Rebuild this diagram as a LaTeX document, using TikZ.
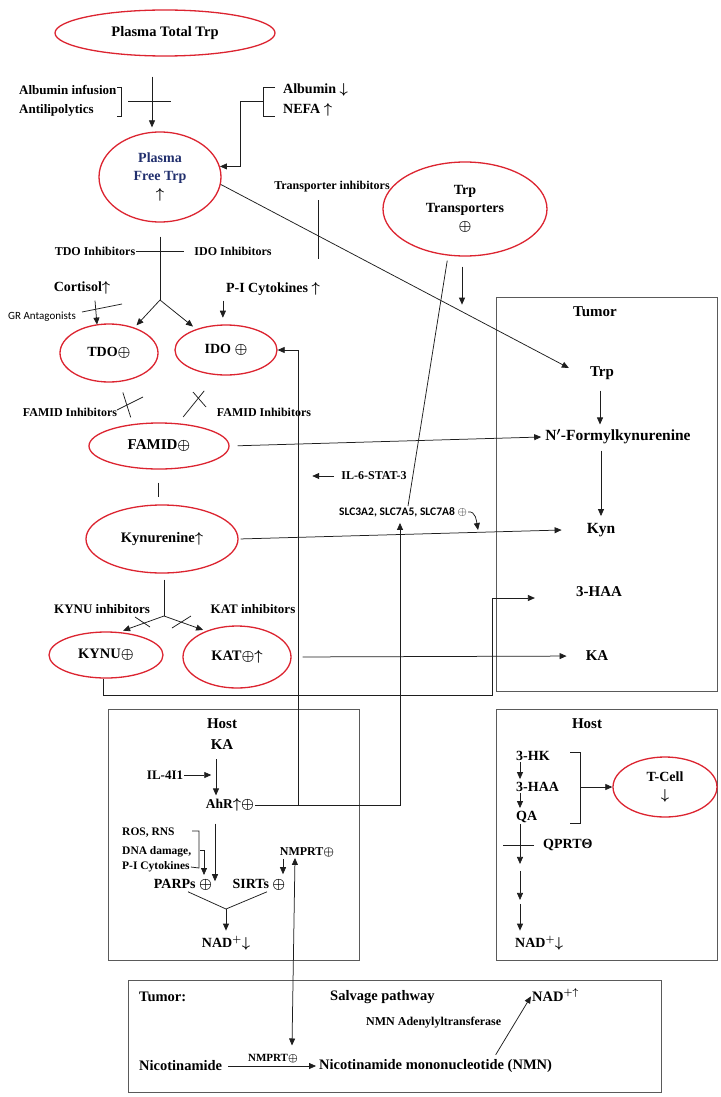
\documentclass[tikz,border=0pt]{standalone}
\usepackage{fontspec}
\setmainfont{Liberation Serif}
\newfontfamily\calibri{Carlito}
\usetikzlibrary{arrows.meta,shapes.geometric}
\definecolor{kyred}{HTML}{DC2430}
\definecolor{kynavy}{HTML}{22306E}
\definecolor{kygrey}{HTML}{5A5A5A}
\definecolor{kyink}{HTML}{1E1E1E}

\tikzset{
  enz/.style={ellipse, draw=kyred, line width=1.3pt, inner sep=0pt, align=center},
  fs/.style={font=\bfseries\boldmath\fontsize{#1}{18}\selectfont, inner sep=1pt},
  sans/.style={font=\calibri\fontsize{#1}{13}\selectfont, inner sep=1pt},
  ln/.style={draw=kyink, line width=0.75pt},
  arr/.style={ln, -{Triangle[length=7pt,width=6pt]}},
  panel/.style={draw=kygrey, line width=0.9pt}
}

\begin{document}
\begin{tikzpicture}[x=1pt, y=-1pt]
  \useasboundingbox (0,0) rectangle (720,1097);
  \fill[white] (0,0) rectangle (720,1097);

  % --- plasma side
  \node[enz,fs=14.5,minimum width=220pt,minimum height=46pt] (ptt) at (165,33) {Plasma Total Trp};
  \node[enz,fs=14,minimum width=122pt,minimum height=90pt] (pft) at (160,177)
       {\textcolor{kynavy}{Plasma}\\\textcolor{kynavy}{Free Trp}\\$\uparrow$};
  \node[enz,fs=14,minimum width=164pt,minimum height=94pt] (ttr) at (465,209)
       {Trp\\Transporters\\$\oplus$};

  \node[fs=13,anchor=west] (albinf) at (18,90) {Albumin infusion};
  \node[fs=13,anchor=west] (antil) at (18,110) {Antilipolytics};
  \node[fs=14,anchor=west] (albdn) at (282,90) {Albumin $\downarrow$};
  \node[fs=14,anchor=west] (nefa) at (282,110) {NEFA $\uparrow$};
  \node[fs=12] (trinh) at (332,187) {Transporter inhibitors};

  \draw[arr,shorten <=20pt,shorten >=4pt] ([xshift=-13pt]ptt.south) -- ([xshift=-13pt]ptt.south |- pft.north);
  \draw[ln] (128,101) -- (171,101);
  \draw[ln] (117,87) -- (121,87) -- (121,116) -- (117,116);
  \draw[ln] (275,87) -- (263,87) -- (263,116) -- (275,116);
  \coordinate (albmid) at (263,101);
  \draw[arr] (albmid) -- ++(-23,0) |- (pft.10);
  \draw[ln] (318,200) -- (318,259);

  % --- the two dioxygenases
  \node[enz,fs=14,minimum width=98pt,minimum height=58pt] (tdo) at (109,353) {TDO$\oplus$};
  \node[enz,fs=14,minimum width=102pt,minimum height=50pt] (ido) at (226,350) {IDO $\oplus$};
  \node[fs=12] (tdoinh) at (95,251) {TDO Inhibitors};
  \node[fs=12] (idoinh) at (233,251) {IDO Inhibitors};
  \node[fs=14] (cort) at (82,288) {Cortisol$\uparrow$};
  \node[sans=11] (grant) at (42,317) {GR Antagonists};
  \node[fs=14] (picy) at (273,289) {P-I Cytokines $\uparrow$};

  \coordinate (split) at (160,300);
  \draw[ln,shorten <=14pt] (pft.south) -- (split);
  \draw[ln] (tdoinh.east) -- ++(48,0);
  \draw[arr,shorten >=3pt] (split) -- (tdo.45);
  \draw[arr,shorten >=4pt] (split) -- (ido.145);
  \draw[arr] ([xshift=13pt]cort.south) ++(0,5) -- ++(2,24);
  \draw[ln] (82,312) -- (122,304);
  \draw[arr] ([xshift=-2pt]picy.south west) ++(0,4) -- ++(0,17);

  % --- formamidase and kynurenine
  \node[enz,fs=15,minimum width=140pt,minimum height=46pt] (famid) at (159,446) {FAMID$\oplus$};
  \node[enz,fs=14.5,minimum width=152pt,minimum height=68pt] (kyn) at (162,539) {Kynurenine$\uparrow$};
  \node[fs=12] (famL) at (70,412) {FAMID Inhibitors};
  \node[fs=12] (famR) at (264,412) {FAMID Inhibitors};

  \draw[ln,shorten <=11pt,shorten >=7pt] (tdo.290) -- (famid.140);
  \draw[ln] (117,410) -- (143,397);
  \draw[ln,shorten <=20pt,shorten >=8pt] (ido.250) -- (famid.50);
  \draw[ln] (193,392) -- (206,407);
  \draw[ln,shorten <=13pt,shorten >=7pt] ([xshift=-1pt]famid.south) -- ([xshift=-1pt]famid.south |- kyn.north);

  \node[fs=12] (il6) at (374,476) {IL-6-STAT-3};
  \node[sans=11.5,font=\calibri\bfseries\fontsize{11.5}{13}\selectfont] (slc) at (403,512) {SLC3A2, SLC7A5, SLC7A8 $\oplus$};
  \draw[arr] ([xshift=-6pt]il6.west) -- ++(-22,0);
  \draw[ln,shorten <=5pt] (ttr.250) -- ([xshift=5pt]slc.north);
  \draw[arr] ([xshift=-3pt]ttr.south) ++(0,10) -- ++(0,38);
  \draw[arr] (slc.east) to[out=10,in=100] ++(10,18);

  % --- KYNU / KAT branch
  \node[enz,fs=14.5,minimum width=114pt,minimum height=46pt] (kynu) at (106,655) {KYNU$\oplus$};
  \node[enz,fs=14.5,minimum width=108pt,minimum height=62pt] (kat) at (237,657) {KAT$\oplus$$\uparrow$};
  \node[fs=13] (kynuinh) at (102,609) {KYNU inhibitors};
  \node[fs=13] (katinh) at (253,609) {KAT inhibitors};

  \coordinate (ksplit) at (164,616);
  \draw[ln,shorten <=6pt] (kyn.south -| ksplit) -- (ksplit);
  \draw[arr,shorten >=4pt] (ksplit) -- (kynu.60);
  \draw[arr,shorten >=3pt] (ksplit) -- (kat.140);
  \draw[ln] (135,617) -- (150,627);
  \draw[ln] (172,628) -- (191,616);

  % --- tumor compartment
  \draw[panel] (496,297) rectangle (717,691);
  \node[fs=15] (tumor) at (595,312) {Tumor};
  \node[fs=15] (trp) at (602,373) {Trp};
  \node[fs=15.5] (nfk) at (618,437) {N$'$-Formylkynurenine};
  \node[fs=15.5] (kynt) at (601,530) {Kyn};
  \node[fs=15] (haa) at (599,592) {3-HAA};
  \node[fs=15] (ka) at (597,656) {KA};

  \draw[arr] (pft.-7) -- ([xshift=-20pt,yshift=5pt]trp.west);
  \draw[arr,shorten <=10pt,shorten >=4pt] ([xshift=-2pt]trp.south) -- ([xshift=-2pt]trp.south |- nfk.north);
  \draw[arr,shorten <=5pt,shorten >=6pt] ([xshift=-17pt]nfk.south) -- ([xshift=-17pt]nfk.south |- kynt.north);
  \draw[arr,shorten <=8pt] (famid.east) -- ([xshift=-3pt]nfk.west);
  \draw[arr,shorten <=2pt] (kyn.east) -- ([xshift=-24pt]kynt.west);
  \draw[arr,shorten <=11pt,shorten >=18pt] (kat.east) -- (ka.west);
  \coordinate (kbend) at (492,695);
  \draw[arr,shorten >=40pt] ([xshift=-3pt]kynu.south) |- (kbend) |- ([yshift=-6pt]haa.west);

  % --- host, left
  \draw[panel] (108,709) rectangle (359,960);
  \node[fs=15] (hostL) at (222,724) {Host};
  \node[fs=15] (kah) at (222,745) {KA};
  \node[fs=13] (il4) at (165,775) {IL-4I1};
  \node[fs=13.5] (ahr) at (230,805) {AhR$\uparrow$$\oplus$};
  \node[fs=11.5,anchor=west] (ros) at (121,833) {ROS, RNS};
  \node[fs=11.5,anchor=west] (dna) at (121,852) {DNA damage,};
  \node[fs=11.5,anchor=west] (pic2) at (121,867) {P-I Cytokines};
  \node[fs=14] (parp) at (183,885) {PARPs $\oplus$};
  \node[fs=14] (sirt) at (259,885) {SIRTs $\oplus$};
  \node[fs=12] (nmprt) at (307,852) {NMPRT$\oplus$};
  \node[fs=14] (nadL) at (226,943) {NAD$^{+}$$\downarrow$};

  \draw[arr,shorten <=8pt,shorten >=2pt] ([xshift=-6pt]kah.south) -- ([xshift=-6pt]kah.south |- ahr.north);
  \draw[arr] (il4.east) -- ++(27,0);
  \draw[arr] (ahr.east) -| ([xshift=-3pt,yshift=-5pt]slc.south);
  \coordinate (ahrj) at (298,805);
  \draw[arr] (ahrj) |- (ido.east);
  \draw[arr,shorten <=11pt,shorten >=-3pt] ([xshift=-15pt]ahr.south) -- ([xshift=-15pt]ahr.south |- parp.north);
  \draw[ln] (192,831) -- (199,831) -- (199,868) -- (pic2.east);
  \draw[arr] (200,850) -- (204,850) -- (204,875);
  \draw[arr,shorten <=1pt,shorten >=4pt] ([xshift=-24pt]nmprt.south) -- ([xshift=-24pt]nmprt.south |- sirt.north);
  \coordinate (nadj) at (226,909);
  \draw[ln] ([xshift=5pt]parp.south) -- (nadj) -- ([xshift=8pt]sirt.south);
  \draw[arr,shorten >=4pt] (nadj) -- (nadj |- nadL.north);

  % --- host, right
  \draw[panel] (496,709) rectangle (717,960);
  \node[fs=15] (hostR) at (587,724) {Host};
  \node[fs=14,anchor=west] (hk) at (515,756) {3-HK};
  \node[fs=14,anchor=west] (haa2) at (515,787) {3-HAA};
  \node[fs=14,anchor=west] (qa) at (515,817) {QA};
  \node[fs=14,anchor=west] (qprt) at (542,845) {QPRTΘ};
  \node[fs=14,anchor=west] (nadR) at (514,943) {NAD$^{+}$$\downarrow$};
  \node[enz,fs=14,minimum width=104pt,minimum height=60pt] (tcell) at (665,787) {T-Cell\\$\downarrow$};

  \draw[arr,shorten >=2pt] ([xshift=5pt]hk.south west) -- ([xshift=5pt]hk.south west |- haa2.north west);
  \draw[arr,shorten >=2pt] ([xshift=5pt]haa2.south west) -- ([xshift=5pt]haa2.south west |- qa.north west);
  \draw[arr] ([xshift=5pt]qa.south west) -- ++(0,40);
  \draw[arr] ([xshift=5pt]qa.south west) ++(0,47) -- ++(0,29);
  \draw[arr,shorten >=4pt] ([xshift=5pt]qa.south west) ++(0,80) -- ([xshift=6pt]nadR.north west);
  \draw[ln] ([xshift=-8pt]qprt.west) -- ++(-31,0);
  \draw[ln] (570,752) -- (580,752) -- (580,823) -- (570,823);
  \coordinate (brmid) at (580,787);
  \draw[arr] (brmid) -- (tcell.west);

  % --- salvage pathway in the tumor
  \draw[panel] (128,980) rectangle (661,1092);
  \node[fs=14.5,anchor=west] (tumB) at (138,997) {Tumor:};
  \node[fs=14.5,anchor=west] (salv) at (329,997) {Salvage pathway};
  \node[fs=14.5,anchor=west] (nadB) at (531,995) {NAD$^{+\uparrow}$};
  \node[fs=12,anchor=west] (nmnat) at (365,1023) {NMN Adenylyltransferase};
  \node[fs=14.5,anchor=west] (nic) at (138,1066) {Nicotinamide};
  \node[fs=11] (nmprtB) at (273,1059) {NMPRT$\oplus$};
  \node[fs=14.5,anchor=west] (nmn) at (318,1066) {Nicotinamide mononucleotide (NMN)};

  \draw[arr,shorten <=5pt,shorten >=2pt] (nic.east) -- (nmn.west);
  \draw[arr,shorten <=4pt] ([xshift=58pt]nmn.north) -- ([yshift=6pt]nadB.south west);
  \draw[ln,{Triangle[length=7pt,width=6pt]}-{Triangle[length=7pt,width=6pt]}]
       ([xshift=-12pt]nmprt.south) -- ([xshift=19pt,yshift=8pt]nmprtB.north);
\end{tikzpicture}
\end{document}
